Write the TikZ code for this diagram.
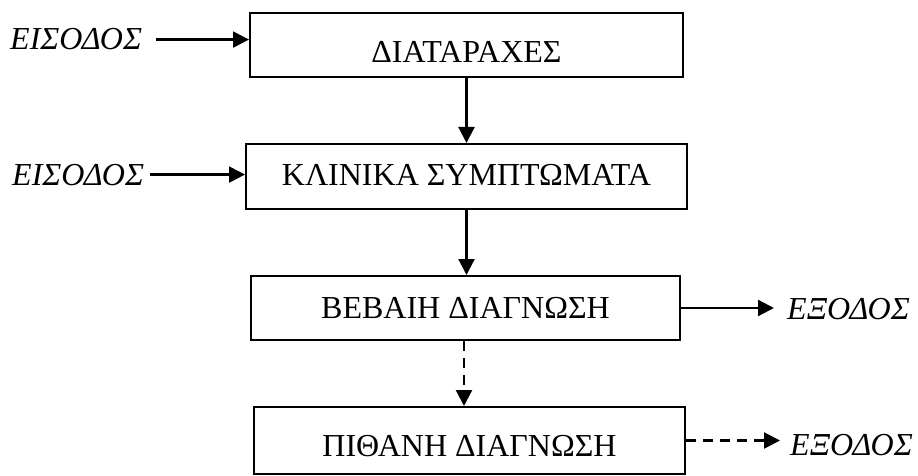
\documentclass[tikz,border=0pt]{standalone}
\usepackage{fontspec}
\setmainfont{Liberation Serif}
\usetikzlibrary{arrows.meta}
\begin{document}
\begin{tikzpicture}[x=1pt,y=-1pt,
  box/.style={draw, line width=2pt, inner sep=0pt},
  txt/.style={inner sep=0pt, font=\fontsize{32}{36}\selectfont},
  itxt/.style={txt, font=\fontsize{32}{36}\selectfont\itshape},
  arr/.style={-{Triangle[length=16pt,width=16pt]}, line width=2.2pt},
  dasharr/.style={arr, dash pattern=on 10pt off 7pt}]
  \useasboundingbox (0,0) rectangle (918,476);

  % boxes of the chain
  \node[box, minimum width=433, minimum height=64] (b1) at (466.5,45) {};
  \node[box, minimum width=441, minimum height=65] (b2) at (466.5,176.5) {};
  \node[box, minimum width=429, minimum height=64] (b3) at (465.5,308) {};
  \node[box, minimum width=431, minimum height=67] (b4) at (469.5,440.5) {};

  % box captions
  \node[txt, anchor=base] (t1) at (466.5,63) {ΔΙΑΤΑΡΑΧΕΣ};
  \node[txt, anchor=base] (t2) at (466.5,185) {ΚΛΙΝΙΚΑ ΣΥΜΠΤΩΜΑΤΑ};
  \node[txt, anchor=base] (t3) at (465.5,318) {ΒΕΒΑΙΗ ΔΙΑΓΝΩΣΗ};
  \node[txt, anchor=base] (t4) at (469.5,456) {ΠΙΘΑΝΗ ΔΙΑΓΝΩΣΗ};

  % inputs and outputs
  \node[itxt, anchor=base west] (in1) at (10,50) {ΕΙΣΟΔΟΣ};
  \node[itxt, anchor=base west] (in2) at (12,185) {ΕΙΣΟΔΟΣ};
  \node[itxt, anchor=base west] (o1) at (787,319) {ΕΞΟΔΟΣ};
  \node[itxt, anchor=base west] (o2) at (790,455) {ΕΞΟΔΟΣ};

  % connectors
  \draw[arr] ([xshift=14pt]in1.east) -- (in1.east -| b1.west);
  \draw[arr] ([xshift=6pt]in2.east) -- (in2.east -| b2.west);
  \draw[arr] (b1.south) -- (b1.south |- b2.north);
  \draw[arr] (b2.south) -- (b2.south |- b3.north);
  \draw[dasharr] ([xshift=-1.5pt]b3.south) -- ([xshift=-1.5pt]b3.south |- b4.north);
  \draw[arr] (b3.east) -- ([xshift=-13pt]o1.west |- b3.east);
  \draw[dasharr] (b4.east) -- ([xshift=-10pt]o2.west |- b4.east);
\end{tikzpicture}
\end{document}
